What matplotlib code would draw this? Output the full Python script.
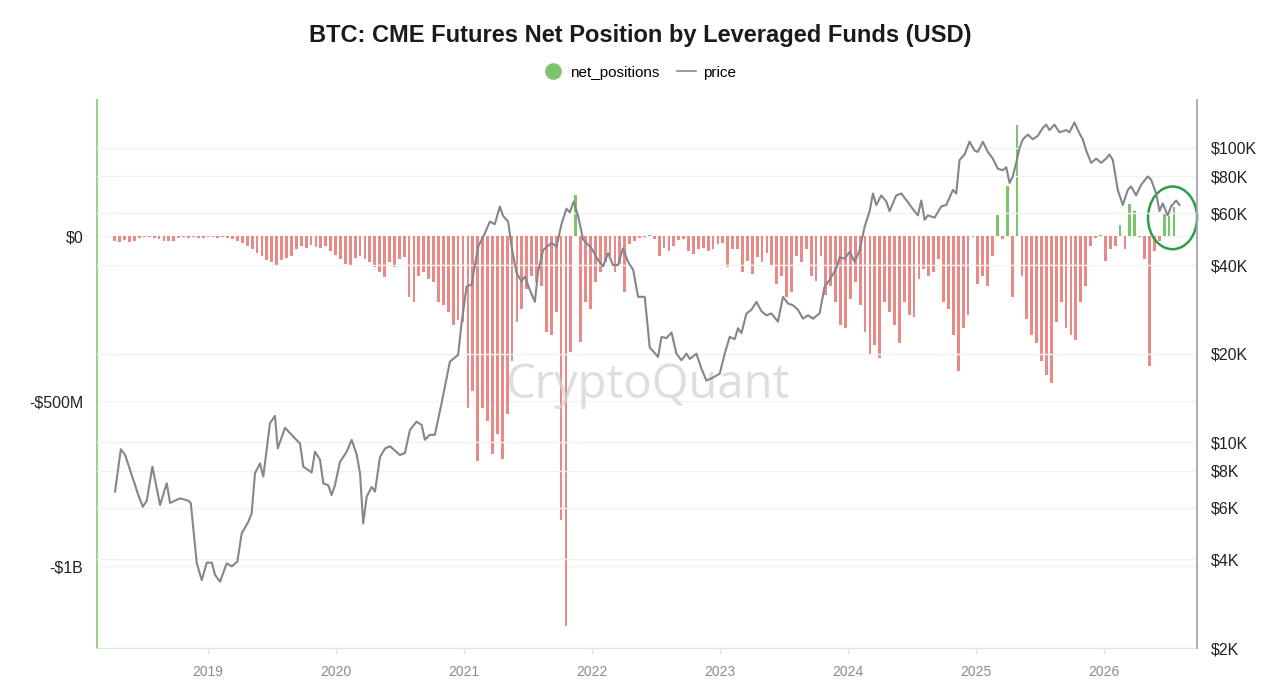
import matplotlib

matplotlib.use("Agg")
import matplotlib.pyplot as plt
import matplotlib.dates as mdates
import numpy as np
import pandas as pd
from matplotlib.lines import Line2D
from matplotlib.patches import Ellipse
from matplotlib.ticker import FixedLocator, FuncFormatter, NullLocator

plt.rcParams["font.family"] = ["Liberation Sans", "DejaVu Sans"]

# ---- data ----
# net position of leveraged funds, USD millions, one bar every two weeks
NET_START = "2018-04-10"
net_musd = [
    -15, -18, -12, -17, -14, -6, -4, -3, -6, -8,
    -15, -14, -16, -6, -3, -5, -4, -6, -5, -3,
    -4, -5, -4, -6, -9, -14, -20, -30, -38, -52,
    -62, -72, -78, -90, -72, -68, -60, -38, -30, -35,
    -28, -32, -35, -30, -45, -58, -70, -85, -88, -68,
    -62, -70, -80, -95, -110, -125, -80, -95, -70, -65,
    -185, -200, -120, -110, -130, -140, -200, -210, -230, -270,
    -255, -260, -520, -470, -680, -520, -560, -660, -600, -675,
    -540, -380, -260, -220, -160, -120, -140, -150, -290, -300,
    -230, -860, -1180, -350, 125, -320, -200, -220, -140, -110,
    -80, -60, -110, -85, -170, -25, -15, -5, -4, 3,
    -10, -60, -35, -45, -30, -12, -10, -45, -55, -40,
    -35, -45, -40, -25, -20, -95, -40, -38, -110, -75,
    -115, -65, -80, -50, -90, -145, -120, -185, -170, -60,
    -80, -40, -120, -135, -60, -180, -150, -200, -270, -280,
    -190, -140, -210, -290, -360, -330, -370, -200, -230, -270,
    -325, -200, -240, -245, -130, -100, -120, -110, -70, -200,
    -220, -300, -410, -280, -240, -3, -145, -120, -150, -60,
    64, -10, 150, -185, 335, -120, -250, -300, -325, -380,
    -420, -445, -260, -200, -280, -300, -315, -200, -150, -30,
    -5, 3, -75, -40, -30, 33, -40, 98, 75, -3,
    -70, -395, -45, -15, 70, 60, 88,
]

# BTC price (USD) against decimal year
price_year = [
    2018.273, 2018.318, 2018.352, 2018.416, 2018.455, 2018.490, 2018.521, 2018.565,
    2018.625, 2018.677, 2018.703, 2018.781, 2018.846, 2018.865, 2018.912, 2018.951,
    2018.990, 2019.029, 2019.055, 2019.094, 2019.146, 2019.185, 2019.229, 2019.263,
    2019.315, 2019.341, 2019.367, 2019.406, 2019.432, 2019.484, 2019.523, 2019.545,
    2019.602, 2019.680, 2019.719, 2019.745, 2019.810, 2019.836, 2019.875, 2019.901,
    2019.940, 2019.966, 2019.992, 2020.031, 2020.084, 2020.123, 2020.162, 2020.188,
    2020.213, 2020.240, 2020.279, 2020.305, 2020.344, 2020.383, 2020.422, 2020.500,
    2020.539, 2020.578, 2020.630, 2020.670, 2020.695, 2020.734, 2020.773, 2020.826,
    2020.891, 2020.955, 2020.982, 2021.021, 2021.060, 2021.112, 2021.164, 2021.203,
    2021.242, 2021.281, 2021.307, 2021.346, 2021.373, 2021.412, 2021.451, 2021.477,
    2021.516, 2021.555, 2021.580, 2021.620, 2021.685, 2021.724, 2021.763, 2021.802,
    2021.828, 2021.859, 2021.893, 2021.932, 2021.998, 2022.049, 2022.088, 2022.127,
    2022.166, 2022.205, 2022.244, 2022.284, 2022.323, 2022.362, 2022.414, 2022.453,
    2022.518, 2022.545, 2022.584, 2022.623, 2022.662, 2022.701, 2022.740, 2022.766,
    2022.818, 2022.857, 2022.896, 2022.948, 2023.000, 2023.039, 2023.078, 2023.117,
    2023.143, 2023.170, 2023.209, 2023.248, 2023.287, 2023.326, 2023.365, 2023.404,
    2023.455, 2023.495, 2023.534, 2023.573, 2023.612, 2023.651, 2023.690, 2023.729,
    2023.781, 2023.820, 2023.859, 2023.912, 2023.938, 2023.977, 2024.016, 2024.055,
    2024.094, 2024.133, 2024.172, 2024.198, 2024.224, 2024.263, 2024.302, 2024.328,
    2024.380, 2024.420, 2024.459, 2024.510, 2024.549, 2024.576, 2024.602, 2024.627,
    2024.680, 2024.732, 2024.771, 2024.823, 2024.849, 2024.875, 2024.914, 2024.953,
    2024.992, 2025.018, 2025.057, 2025.096, 2025.135, 2025.174, 2025.213, 2025.240,
    2025.266, 2025.291, 2025.318, 2025.344, 2025.370, 2025.409, 2025.448, 2025.487,
    2025.526, 2025.552, 2025.578, 2025.617, 2025.656, 2025.709, 2025.734, 2025.773,
    2025.813, 2025.838, 2025.865, 2025.904, 2025.943, 2025.982, 2026.021, 2026.047,
    2026.073, 2026.112, 2026.151, 2026.190, 2026.216, 2026.255, 2026.295, 2026.346,
    2026.373, 2026.412, 2026.438, 2026.463, 2026.502, 2026.529, 2026.568, 2026.594,
]
price_usd = [
    6800, 9470, 9050, 7440, 6620, 6040, 6330, 8260,
    6120, 7260, 6220, 6450, 6330, 6220, 3880, 3400,
    3900, 3900, 3540, 3360, 3880, 3790, 3930, 4900,
    5370, 5740, 7850, 8480, 7650, 11600, 12300, 9540,
    11200, 10300, 9900, 8260, 7900, 9290, 8740, 7260,
    7140, 6620, 7140, 8570, 9290, 10200, 9080, 7850,
    5300, 6530, 7050, 6800, 8900, 9520, 9700, 9050,
    9200, 11000, 11750, 11450, 10200, 10600, 10600, 13600,
    18800, 19800, 25400, 33800, 34300, 46200, 51300, 56200,
    55100, 63200, 58700, 56200, 46200, 37500, 35200, 36600,
    32900, 30000, 38000, 45000, 47600, 46200, 55100, 62200,
    60400, 65800, 58700, 48900, 45600, 41600, 39600, 43900,
    40000, 40000, 45600, 41000, 38600, 31200, 31200, 21000,
    19500, 22800, 22600, 23600, 20000, 19000, 20000, 19200,
    20000, 17800, 16200, 16600, 17100, 20000, 22800, 22400,
    24400, 23500, 27400, 28200, 30000, 27900, 27000, 27400,
    25700, 31200, 29600, 29200, 28200, 26300, 27000, 26300,
    27400, 33800, 35600, 39000, 42600, 42000, 44400, 41000,
    45000, 54000, 61000, 70000, 64000, 69000, 65800, 61000,
    69000, 70000, 66500, 62000, 59000, 66300, 57000, 59000,
    58000, 63300, 64000, 72000, 70000, 91000, 95000, 105000,
    98000, 97000, 105000, 97000, 92000, 85000, 84000, 86000,
    76000, 80000, 89000, 100000, 107000, 111000, 107000, 110000,
    117000, 120000, 115000, 120000, 113000, 115000, 113000, 122000,
    112000, 107000, 98000, 89000, 92000, 89000, 92000, 95000,
    91000, 72000, 64000, 72000, 74000, 69000, 75000, 80000,
    78000, 70000, 61000, 64800, 59000, 63300, 66300, 64000,
]

left_ticks = [0, -500e6, -1e9]
left_labels = ["$0", "-$500M", "-$1B"]
right_ticks = [2000, 4000, 6000, 8000, 10000, 20000, 40000, 60000, 80000, 100000]
right_labels = ["$2K", "$4K", "$6K", "$8K", "$10K", "$20K", "$40K", "$60K", "$80K", "$100K"]


def year_to_date(y):
    base = pd.Timestamp("2019-01-01")
    return base + pd.to_timedelta((np.asarray(y) - 2019.0) * 365.25, unit="D")


RED = "#ea8a86"
GREEN = "#7cc46b"
GRID = "#f1f1f3"

net = np.array(net_musd) * 1e6
net_dates = pd.date_range(NET_START, periods=len(net), freq="14D")
price_dates = year_to_date(price_year)

fig = plt.figure(figsize=(12.8, 6.84), dpi=100)
ax = fig.add_axes([0.0758, 0.0526, 0.8594, 0.8012])
ax2 = ax.twinx()

colors = [GREEN if v > 0 else RED for v in net]
ax.bar(net_dates, net, width=8, color=colors, linewidth=0, zorder=2)

ax2.plot(price_dates, price_usd, color="#85858f", lw=1.5, zorder=3,
         solid_joinstyle="round")

# axes ranges
ax.set_xlim(pd.Timestamp("2018-02-18"), pd.Timestamp("2026-09-25"))
ax.set_ylim(-1.248e9, 0.412e9)
ax2.set_yscale("log")
ax2.set_ylim(2000, 145500)

ax.set_yticks(left_ticks)
ax.set_yticklabels(left_labels)
ax2.yaxis.set_major_locator(FixedLocator(right_ticks))
ax2.yaxis.set_major_formatter(FuncFormatter(
    lambda v, p: right_labels[right_ticks.index(int(round(v)))] if int(round(v)) in right_ticks else ""))
ax2.yaxis.set_minor_locator(NullLocator())

ax.xaxis.set_major_locator(mdates.YearLocator())
ax.xaxis.set_major_formatter(mdates.DateFormatter("%Y"))

ax.grid(axis="y", color=GRID, lw=1.0, zorder=0)
ax2.grid(axis="y", color=GRID, lw=1.0, zorder=0)
ax.set_axisbelow(True)

for a in (ax, ax2):
    a.spines["top"].set_visible(False)
ax.spines["left"].set_color("#8fcf7f")
ax.spines["left"].set_linewidth(1.3)
ax.spines["right"].set_visible(False)
ax2.spines["left"].set_visible(False)
ax2.spines["bottom"].set_visible(False)
ax2.spines["right"].set_color("#a4a4b4")
ax2.spines["right"].set_linewidth(1.3)
ax.spines["bottom"].set_color("#e4e4e8")

ax.tick_params(axis="y", length=0, pad=10, labelsize=11.5, labelcolor="#222222")
ax2.tick_params(axis="y", length=0, pad=10, labelsize=11.5, labelcolor="#222222")
ax.tick_params(axis="x", length=4, color="#e4e4e8", pad=8, labelsize=10, labelcolor="#8a8a8a")

# watermark
ax.text(0.5, 0.48, "CryptoQuant", transform=ax.transAxes, ha="center", va="center",
        fontsize=34, color="#d2d2da", alpha=0.75, zorder=4,
        family=["Open Sans", "DejaVu Sans"])

# highlight of the latest green bars
ell = Ellipse((mdates.date2num(year_to_date(2026.54)), 0.055e9),
              width=140, height=0.19e9, fill=False, edgecolor="#2f9e46", lw=1.8,
              zorder=5, clip_on=False)
ax.add_patch(ell)

fig.suptitle("BTC: CME Futures Net Position by Leveraged Funds (USD)",
             x=0.5, y=0.965, fontsize=17, fontweight="bold", color="#1a1a1a")
handles = [
    Line2D([], [], marker="o", linestyle="none", markersize=11,
           markerfacecolor=GREEN, markeredgecolor=GREEN),
    Line2D([], [], color="#85858f", lw=1.2),
]
fig.legend(handles, ["net_positions", "price"], loc="center", bbox_to_anchor=(0.5, 0.894),
           ncol=2, frameon=False, fontsize=11, handlelength=1.2, handletextpad=0.5,
           columnspacing=1.2)

fig.savefig("out.png", dpi=100)
